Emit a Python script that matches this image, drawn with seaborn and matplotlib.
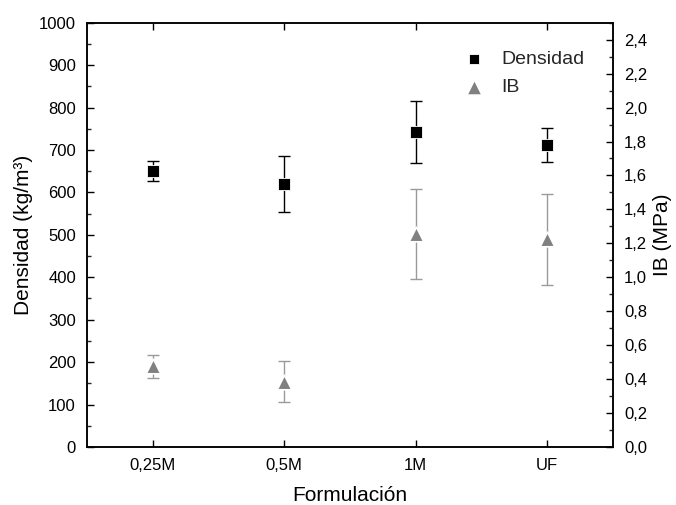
import matplotlib
matplotlib.use("Agg")
import matplotlib.pyplot as plt
import seaborn as sns
import numpy as np
import pandas as pd
from matplotlib.ticker import MultipleLocator, FuncFormatter

# ---- data ----
categories = ["0,25M", "0,5M", "1M", "UF"]
densidad = [650, 620, 742, 712]
densidad_err = [24, 67, 73, 40]
ib = [0.475, 0.385, 1.255, 1.225]
ib_err = [0.068, 0.12, 0.267, 0.268]

sns.set_theme(style="white")
plt.rcParams['font.family'] = ['Liberation Sans', 'DejaVu Sans']

fig = plt.figure(figsize=(6.76, 5.05), dpi=100)
ax = fig.add_axes([87/676, 1 - 447/505, 526/676, 424.3/505])
ax2 = ax.twinx()

df = pd.DataFrame({"Formulación": categories, "Densidad": densidad,
                   "Densidad_err": densidad_err, "IB": ib, "IB_err": ib_err})
xpos = np.arange(len(categories))

# error bars
ax.errorbar(xpos, df["Densidad"], yerr=df["Densidad_err"], fmt="none",
            ecolor="black", elinewidth=1.0, capsize=4, capthick=1.0, zorder=2)
ax2.errorbar(xpos, df["IB"], yerr=df["IB_err"], fmt="none",
             ecolor="#9a9a9a", elinewidth=1.0, capsize=4, capthick=1.0, zorder=2)

# markers
sns.scatterplot(data=df, x="Formulación", y="Densidad", ax=ax, marker="s",
                color="black", s=75, edgecolor="white", linewidth=0.6, zorder=3,
                label="Densidad", legend=False)
sns.scatterplot(data=df, x="Formulación", y="IB", ax=ax2, marker="^",
                color="#808080", s=110, edgecolor="white", linewidth=1.2, zorder=3,
                label="IB", legend=False)

ax.set_xlim(-0.5, 3.5)
ax.set_ylim(0, 1000)
ax2.set_ylim(0, 2.5)
ax.set_xticks(xpos)
ax.set_xticklabels(categories)

ax.yaxis.set_major_locator(MultipleLocator(100))
ax.yaxis.set_minor_locator(MultipleLocator(50))
ax2.yaxis.set_major_locator(MultipleLocator(0.2))
ax2.yaxis.set_minor_locator(MultipleLocator(0.1))
ax2.set_yticks([round(0.2 * i, 1) for i in range(13)])
ax2.yaxis.set_major_formatter(FuncFormatter(lambda v, p: f"{v:.1f}".replace(".", ",")))

for a in (ax, ax2):
    for s in a.spines.values():
        s.set_color("black")
        s.set_linewidth(1.1)
    a.grid(False)

ax.tick_params(axis="x", which="major", direction="in", length=5, width=1.0,
               top=True, bottom=True, labelsize=12, pad=8, colors="black")
ax.tick_params(axis="y", which="major", direction="in", length=5, width=1.0,
               left=True, right=False, labelsize=12, pad=8, colors="black")
ax.tick_params(axis="y", which="minor", direction="in", length=3, width=1.0,
               left=True, right=False)
ax2.tick_params(axis="y", which="major", direction="in", length=5, width=1.0,
                right=True, left=False, labelsize=12, pad=8, colors="black")
ax2.tick_params(axis="y", which="minor", direction="in", length=3, width=1.0,
                right=True, left=False)

ax.set_xlabel("Formulación", fontsize=15, labelpad=9, color="black")
ax.set_ylabel("Densidad (kg/m³)", fontsize=15, labelpad=4, color="black")
ax2.set_ylabel("IB (MPa)", fontsize=15, labelpad=4, color="black")

h1, l1 = ax.get_legend_handles_labels()
h2, l2 = ax2.get_legend_handles_labels()
leg = ax2.legend(h1 + h2, l1 + l2, loc="upper left", bbox_to_anchor=(0.717, 0.935),
                 frameon=False, fontsize=14, handlelength=1.0, handletextpad=0.9,
                 labelspacing=0.55, borderpad=0, borderaxespad=0)
lh = leg.legend_handles
lh[0].set_sizes([55])
lh[1].set_sizes([120])
lh[1].set_edgecolor("white")

fig.savefig("out.png", dpi=100)
